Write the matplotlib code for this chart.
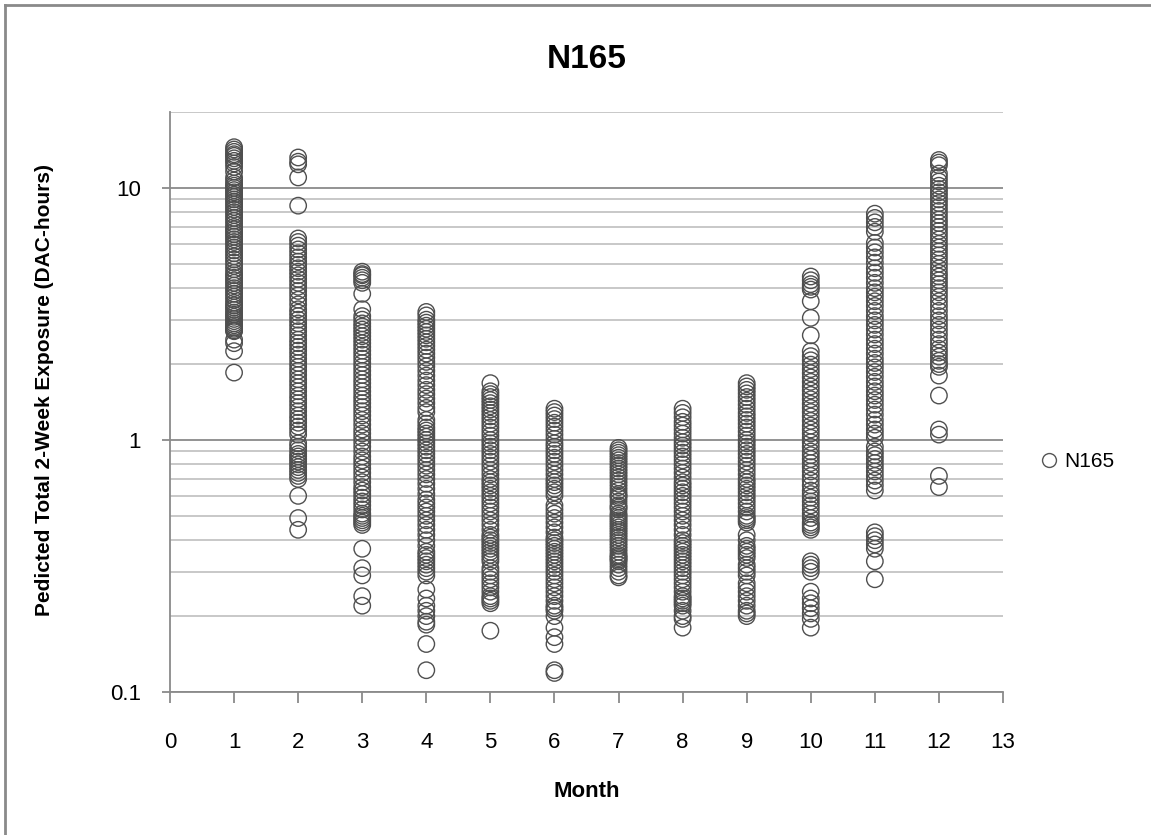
import numpy as np
import matplotlib
matplotlib.use("Agg")
import matplotlib.pyplot as plt
from matplotlib.ticker import FixedLocator, FuncFormatter
from matplotlib.lines import Line2D

plt.rcParams['font.family'] = ['Liberation Sans', 'DejaVu Sans']

# predicted total 2-week exposure (DAC-hours), one list per month
m01 = [14.5, 14.2, 13.9, 13.6, 13.4, 13.1, 12.8, 12.5, 12.1, 11.6, 11.0, 10.7, 10.4, 10.2,
       10.0, 9.8, 9.6, 9.4, 9.2, 9.0, 8.8, 8.6, 8.4, 8.2, 8.0, 7.8, 7.6, 7.4, 7.2, 7.0,
       6.85, 6.7, 6.55, 6.4, 6.25, 6.1, 5.95, 5.8, 5.65, 5.5, 5.35, 5.2, 5.05, 4.9, 4.75,
       4.6, 4.5, 4.4, 4.3, 4.2, 4.1, 4.0, 3.9, 3.8, 3.7, 3.6, 3.5, 3.42, 3.35, 3.28, 3.2,
       3.14, 3.08, 3.02, 2.96, 2.9, 2.85, 2.8, 2.76, 2.72, 2.7, 2.5, 2.42, 2.25, 1.85]
m02 = [13.2, 12.7, 12.4, 11.0, 8.5, 6.3, 6.1, 5.9, 5.7, 5.5, 5.3, 5.1, 4.95, 4.8, 4.65,
       4.5, 4.35, 4.2, 4.05, 3.9, 3.75, 3.6, 3.45, 3.3, 3.2, 3.1, 3.0, 2.9, 2.8, 2.7, 2.6,
       2.5, 2.42, 2.34, 2.26, 2.18, 2.1, 2.02, 1.95, 1.88, 1.81, 1.74, 1.68, 1.62, 1.56,
       1.5, 1.45, 1.4, 1.35, 1.3, 1.25, 1.21, 1.17, 1.13, 1.09, 1.05, 0.97, 0.94, 0.91,
       0.88, 0.86, 0.84, 0.82, 0.8, 0.78, 0.76, 0.74, 0.72, 0.7, 0.6, 0.49, 0.44]
m03 = [4.65, 4.55, 4.5, 4.4, 4.3, 4.2, 3.8, 3.3, 3.1, 3.0, 2.9, 2.82, 2.74, 2.66, 2.58,
       2.5, 2.42, 2.34, 2.26, 2.18, 2.1, 2.02, 1.95, 1.88, 1.81, 1.74, 1.68, 1.62, 1.56,
       1.5, 1.45, 1.4, 1.35, 1.3, 1.25, 1.2, 1.15, 1.1, 1.06, 1.02, 0.98, 0.94, 0.9, 0.86,
       0.83, 0.8, 0.77, 0.74, 0.71, 0.68, 0.65, 0.63, 0.61, 0.59, 0.57, 0.55, 0.53, 0.51,
       0.5, 0.49, 0.48, 0.47, 0.46, 0.37, 0.31, 0.29, 0.24, 0.22]
m04 = [3.22, 3.12, 3.0, 2.92, 2.84, 2.76, 2.68, 2.6, 2.52, 2.44, 2.36, 2.28, 2.2, 2.12,
       2.04, 1.96, 1.88, 1.8, 1.72, 1.65, 1.58, 1.52, 1.46, 1.4, 1.34, 1.29, 1.2, 1.16,
       1.12, 1.09, 1.06, 1.03, 1.0, 0.97, 0.94, 0.91, 0.88, 0.85, 0.82, 0.79, 0.76, 0.73,
       0.7, 0.67, 0.64, 0.61, 0.58, 0.56, 0.54, 0.52, 0.5, 0.48, 0.46, 0.44, 0.42, 0.4,
       0.38, 0.36, 0.35, 0.34, 0.33, 0.32, 0.31, 0.3, 0.29, 0.255, 0.235, 0.22, 0.21, 0.2,
       0.19, 0.185, 0.155, 0.122]
m05 = [1.68, 1.56, 1.52, 1.48, 1.44, 1.4, 1.36, 1.32, 1.28, 1.24, 1.2, 1.16, 1.12, 1.08,
       1.04, 1.0, 0.97, 0.94, 0.91, 0.88, 0.85, 0.82, 0.79, 0.76, 0.73, 0.7, 0.68, 0.66,
       0.64, 0.62, 0.6, 0.58, 0.56, 0.54, 0.52, 0.5, 0.48, 0.46, 0.44, 0.42, 0.41, 0.4,
       0.39, 0.38, 0.37, 0.36, 0.35, 0.34, 0.33, 0.31, 0.3, 0.29, 0.28, 0.27, 0.26, 0.25,
       0.24, 0.235, 0.23, 0.225, 0.175]
m06 = [1.33, 1.29, 1.25, 1.21, 1.17, 1.13, 1.09, 1.05, 1.01, 0.97, 0.94, 0.91, 0.88, 0.85,
       0.82, 0.79, 0.76, 0.73, 0.7, 0.68, 0.66, 0.64, 0.62, 0.6, 0.55, 0.53, 0.51, 0.49,
       0.47, 0.45, 0.43, 0.41, 0.4, 0.39, 0.38, 0.37, 0.36, 0.35, 0.34, 0.33, 0.32, 0.31,
       0.3, 0.29, 0.28, 0.27, 0.26, 0.25, 0.24, 0.23, 0.22, 0.215, 0.21, 0.2, 0.18, 0.165,
       0.155, 0.122, 0.119]
m07 = [0.93, 0.91, 0.89, 0.87, 0.85, 0.83, 0.81, 0.79, 0.77, 0.75, 0.73, 0.71, 0.69, 0.67,
       0.65, 0.63, 0.61, 0.6, 0.59, 0.57, 0.55, 0.54, 0.53, 0.51, 0.5, 0.49, 0.48, 0.47,
       0.46, 0.45, 0.44, 0.43, 0.42, 0.41, 0.4, 0.39, 0.38, 0.37, 0.36, 0.35, 0.345, 0.34,
       0.335, 0.33, 0.32, 0.31, 0.3, 0.29, 0.285]
m08 = [1.33, 1.28, 1.23, 1.18, 1.14, 1.1, 1.06, 1.02, 0.98, 0.95, 0.92, 0.89, 0.86, 0.83,
       0.8, 0.77, 0.74, 0.71, 0.68, 0.66, 0.64, 0.62, 0.6, 0.58, 0.56, 0.54, 0.52, 0.5,
       0.48, 0.46, 0.44, 0.42, 0.4, 0.39, 0.38, 0.37, 0.36, 0.35, 0.34, 0.33, 0.32, 0.31,
       0.3, 0.29, 0.28, 0.27, 0.26, 0.25, 0.24, 0.235, 0.23, 0.225, 0.22, 0.21, 0.2, 0.195,
       0.18]
m09 = [1.68, 1.63, 1.58, 1.53, 1.48, 1.43, 1.38, 1.33, 1.28, 1.24, 1.2, 1.16, 1.12, 1.08,
       1.04, 1.0, 0.97, 0.94, 0.91, 0.88, 0.85, 0.82, 0.79, 0.76, 0.73, 0.7, 0.68, 0.66,
       0.64, 0.62, 0.6, 0.58, 0.56, 0.54, 0.52, 0.5, 0.49, 0.48, 0.47, 0.42, 0.4, 0.38,
       0.37, 0.36, 0.35, 0.34, 0.32, 0.31, 0.3, 0.29, 0.27, 0.26, 0.25, 0.24, 0.23, 0.22,
       0.21, 0.205, 0.2]
m10 = [4.45, 4.3, 4.15, 4.05, 3.95, 3.55, 3.05, 2.6, 2.25, 2.15, 2.07, 1.99, 1.91, 1.84,
       1.77, 1.7, 1.63, 1.57, 1.51, 1.45, 1.39, 1.34, 1.29, 1.24, 1.19, 1.14, 1.1, 1.06,
       1.02, 0.98, 0.94, 0.9, 0.87, 0.84, 0.81, 0.78, 0.75, 0.72, 0.69, 0.66, 0.63, 0.61,
       0.59, 0.57, 0.55, 0.53, 0.51, 0.49, 0.47, 0.46, 0.45, 0.44, 0.33, 0.32, 0.31, 0.3,
       0.25, 0.235, 0.225, 0.215, 0.205, 0.195, 0.18]
m11 = [7.9, 7.6, 7.3, 7.0, 6.7, 6.05, 5.8, 5.55, 5.3, 5.05, 4.8, 4.6, 4.4, 4.2, 4.0, 3.85,
       3.7, 3.55, 3.4, 3.25, 3.1, 2.98, 2.86, 2.74, 2.62, 2.5, 2.4, 2.3, 2.2, 2.1, 2.02,
       1.94, 1.86, 1.78, 1.7, 1.63, 1.56, 1.5, 1.44, 1.38, 1.32, 1.26, 1.2, 1.15, 1.1, 1.06,
       1.02, 0.94, 0.9, 0.87, 0.84, 0.81, 0.78, 0.75, 0.72, 0.69, 0.66, 0.63, 0.43, 0.415,
       0.4, 0.385, 0.37, 0.33, 0.28]
m12 = [12.9, 12.6, 12.3, 11.4, 11.0, 10.6, 10.2, 9.9, 9.6, 9.3, 9.0, 8.7, 8.4, 8.1, 7.8,
       7.5, 7.25, 7.0, 6.75, 6.5, 6.25, 6.0, 5.8, 5.6, 5.4, 5.2, 5.0, 4.8, 4.6, 4.45, 4.3,
       4.15, 4.0, 3.85, 3.7, 3.55, 3.4, 3.25, 3.1, 2.98, 2.86, 2.74, 2.62, 2.5, 2.4, 2.3,
       2.22, 2.14, 2.06, 2.0, 1.95, 1.8, 1.5, 1.1, 1.05, 0.72, 0.65]

months = [1, 2, 3, 4, 5, 6, 7, 8, 9, 10, 11, 12]
exposure = [m01, m02, m03, m04, m05, m06, m07, m08, m09, m10, m11, m12]

xs = np.concatenate([[m] * len(v) for m, v in zip(months, exposure)])
ys = np.concatenate(exposure)

fig = plt.figure(figsize=(11.51, 8.35), dpi=100)
ax = fig.add_axes([170 / 1151, 1 - 692 / 835, (1003 - 170) / 1151, (692 - 112) / 835])

ax.scatter(xs, ys, s=140, facecolors='none', edgecolors='#4f4f4f', linewidths=1.0,
           zorder=3, clip_on=False)

ax.set_yscale('log')
ax.set_ylim(0.1, 20)
ax.set_xlim(0, 13)
ax.set_xticks(range(0, 14))

ax.yaxis.set_major_locator(FixedLocator([0.1, 1, 10]))
ax.yaxis.set_major_formatter(FuncFormatter(lambda v, p: '{:g}'.format(v)))
minor = [k * d for d in (0.1, 1, 10) for k in range(2, 10)]
minor = [v for v in minor if v <= 20]
ax.yaxis.set_minor_locator(FixedLocator(minor))
ax.yaxis.set_minor_formatter(FuncFormatter(lambda v, p: ''))

ax.grid(True, which='major', axis='y', color='#8a8a8a', linewidth=1.3, zorder=0)
ax.grid(True, which='minor', axis='y', color='#c4c4c4', linewidth=1.3, zorder=0)
ax.set_axisbelow(True)

for side in ('top', 'right'):
    ax.spines[side].set_visible(False)
for side in ('left', 'bottom'):
    ax.spines[side].set_color('#8a8a8a')
    ax.spines[side].set_linewidth(1.3)

ax.tick_params(axis='y', which='major', direction='out', length=6, width=1.3,
               color='#8a8a8a', labelsize=16, pad=15)
ax.tick_params(axis='y', which='minor', length=0)
ax.tick_params(axis='x', which='major', direction='out', length=8, width=1.3,
               color='#8a8a8a', labelsize=16, pad=21)

ax.set_title('N165', fontsize=24, fontweight='bold', pad=32)
ax.set_xlabel('Month', fontsize=16, fontweight='bold', labelpad=20)
ax.set_ylabel('Pedicted Total 2-Week Exposure (DAC-hours)', fontsize=15,
              fontweight='bold', labelpad=40)
ax.yaxis.label.set_y(0.52)

handle = Line2D([], [], linestyle='none', marker='o', markersize=10,
                markerfacecolor='none', markeredgecolor='#555555', markeredgewidth=1.0)
fig.legend([handle], ['N165'], loc='center left',
           bbox_to_anchor=(1018 / 1151, 1 - 462 / 835), frameon=False,
           fontsize=15, handletextpad=0.1, handlelength=1.2)

# chart area border
fig.add_artist(Line2D([0.004, 1.0], [0.994, 0.994], color='#8a8a8a', linewidth=2))
fig.add_artist(Line2D([0.004, 0.004], [0.0, 0.994], color='#8a8a8a', linewidth=2))

fig.savefig('out.png', dpi=100)
